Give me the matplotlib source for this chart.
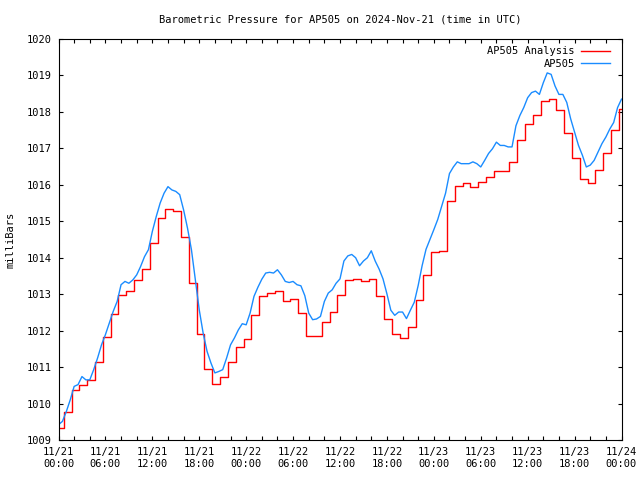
import matplotlib
matplotlib.use('Agg')
import matplotlib.pyplot as plt
import matplotlib.dates as mdates
import pandas as pd

# Analysis values: hourly steps, each starting at HH:40
analysis_start = '2024-11-20 23:40'
analysis = [
    1009.33, 1009.77, 1010.37, 1010.52, 1010.64, 1011.14, 1011.82, 1012.45,
    1012.97, 1013.08, 1013.39, 1013.68, 1014.40, 1015.09, 1015.33, 1015.27,
    1014.56, 1013.30, 1011.90, 1010.95, 1010.53, 1010.73, 1011.13, 1011.55,
    1011.78, 1012.43, 1012.96, 1013.03, 1013.10, 1012.82, 1012.86, 1012.48,
    1011.84, 1011.86, 1012.23, 1012.50, 1012.98, 1013.40, 1013.43, 1013.36,
    1013.42, 1012.95, 1012.33, 1011.90, 1011.81, 1012.11, 1012.85, 1013.52,
    1014.15, 1014.18, 1015.56, 1015.98, 1016.04, 1015.94, 1016.08, 1016.22,
    1016.38, 1016.38, 1016.62, 1017.22, 1017.67, 1017.92, 1018.30, 1018.35,
    1018.05, 1017.43, 1016.74, 1016.15, 1016.06, 1016.40, 1016.87, 1017.51,
    1018.08, 1018.20,
]

# Station readings, every 30 minutes
station_start = '2024-11-21 00:00'
station = [
    1009.42, 1009.51, 1009.78, 1010.10, 1010.47, 1010.52, 1010.74, 1010.65,
    1010.65, 1010.93, 1011.25, 1011.61, 1011.89, 1012.21, 1012.53, 1012.80,
    1013.26, 1013.35, 1013.30, 1013.39, 1013.53, 1013.76, 1014.03, 1014.22,
    1014.72, 1015.13, 1015.50, 1015.77, 1015.95, 1015.86, 1015.82, 1015.73,
    1015.31, 1014.81, 1014.22, 1013.39, 1012.57, 1011.93, 1011.43, 1011.11,
    1010.84, 1010.88, 1010.93, 1011.25, 1011.61, 1011.80, 1012.02, 1012.19,
    1012.16, 1012.48, 1012.94, 1013.19, 1013.41, 1013.58, 1013.60, 1013.58,
    1013.67, 1013.53, 1013.35, 1013.32, 1013.35, 1013.26, 1013.23, 1012.96,
    1012.48, 1012.30, 1012.32, 1012.39, 1012.80, 1013.03, 1013.12, 1013.30,
    1013.42, 1013.91, 1014.05, 1014.09, 1014.00, 1013.78, 1013.91, 1014.00,
    1014.19, 1013.91, 1013.69, 1013.42, 1013.01, 1012.56, 1012.42, 1012.51,
    1012.51, 1012.33, 1012.56, 1012.78, 1013.24, 1013.78, 1014.23, 1014.50,
    1014.77, 1015.05, 1015.41, 1015.77, 1016.31, 1016.49, 1016.63, 1016.58,
    1016.58, 1016.58, 1016.63, 1016.58, 1016.49, 1016.67, 1016.86, 1016.99,
    1017.17, 1017.08, 1017.08, 1017.04, 1017.04, 1017.62, 1017.90, 1018.12,
    1018.39, 1018.53, 1018.57, 1018.48, 1018.80, 1019.07, 1019.03, 1018.71,
    1018.48, 1018.48, 1018.26, 1017.81, 1017.44, 1017.08, 1016.81, 1016.49,
    1016.54, 1016.67, 1016.90, 1017.13, 1017.31, 1017.53, 1017.71, 1018.12,
    1018.35,
]

t_analysis = pd.date_range(analysis_start, periods=len(analysis), freq='h')
t_station = pd.date_range(station_start, periods=len(station), freq='30min')

font = 'DejaVu Sans Mono'
fs = 7.5
plt.rcParams['font.family'] = font
plt.rcParams['font.size'] = fs

fig = plt.figure(figsize=(6.4, 4.8), dpi=100)
ax = fig.add_axes([58.5 / 640, 40 / 480, 563 / 640, 401 / 480])

ax.plot(t_analysis, analysis, color='#ff0000', lw=1.0, drawstyle='steps-post',
        label='AP505 Analysis')
ax.plot(t_station, station, color='#1a8cff', lw=1.0, label='AP505')

ax.set_xlim(pd.Timestamp('2024-11-21 00:00'), pd.Timestamp('2024-11-24 00:00'))
ax.set_ylim(1009, 1020)
ax.set_yticks(range(1009, 1021))

ax.xaxis.set_major_locator(mdates.HourLocator(byhour=[0, 6, 12, 18]))
ax.xaxis.set_minor_locator(mdates.HourLocator(byhour=range(0, 24, 2)))
ax.xaxis.set_major_formatter(mdates.DateFormatter('%m/%d\n%H:%M'))

ax.tick_params(which='both', direction='in', top=True, right=True,
               length=3, width=0.8, labelsize=fs, pad=5)

ax.set_ylabel('milliBars', fontsize=fs, labelpad=8)
# title centred over the plot area
ax.text(0.5, 1 + 19 / 401, 'Barometric Pressure for AP505 on 2024-Nov-21 (time in UTC)',
        transform=ax.transAxes, ha='center', va='center', fontsize=fs)

ax.legend(loc='upper right', frameon=False, markerfirst=False, handlelength=2.8,
          alignment='right', fontsize=fs, borderaxespad=0.3, labelspacing=0.25,
          handletextpad=0.6, bbox_to_anchor=(0.993, 1.0))

plt.savefig('out.png', dpi=100)
